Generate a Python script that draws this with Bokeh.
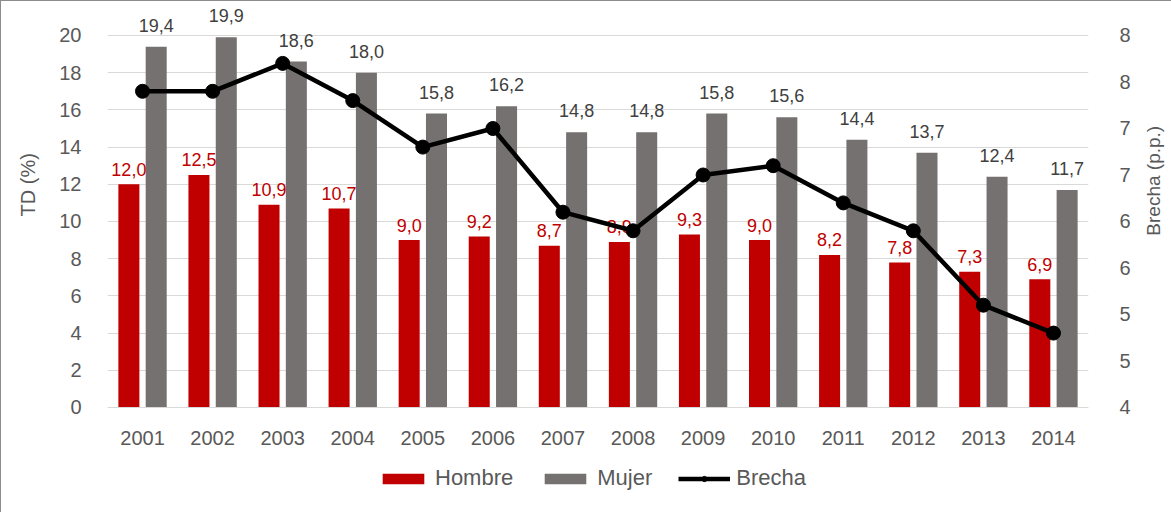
import math
from bokeh.plotting import figure
from bokeh.models import (ColumnDataSource, FactorRange, Range1d, LinearAxis, FixedTicker,
                          CustomJSTickFormatter, LabelSet, Legend, LegendItem)
from bokeh.transform import dodge
from bokeh.embed import file_html
from bokeh.resources import INLINE
from bokeh.core.properties import value

years = ["2001", "2002", "2003", "2004", "2005", "2006", "2007",
         "2008", "2009", "2010", "2011", "2012", "2013", "2014"]
hombre = [12.0, 12.5, 10.9, 10.7, 9.0, 9.2, 8.7, 8.9, 9.3, 9.0, 8.2, 7.8, 7.3, 6.9]
mujer = [19.4, 19.9, 18.6, 18.0, 15.8, 16.2, 14.8, 14.8, 15.8, 15.6, 14.4, 13.7, 12.4, 11.7]
brecha = [7.4, 7.4, 7.7, 7.3, 6.8, 7.0, 6.1, 5.9, 6.5, 6.6, 6.2, 5.9, 5.1, 4.8]
left_ticks = [0, 2, 4, 6, 8, 10, 12, 14, 16, 18, 20]
right_ticks = [4.0, 4.5, 5.0, 5.5, 6.0, 6.5, 7.0, 7.5, 8.0]

FONT = "Liberation Sans"
AXIS_GRAY = "#595959"
RED = "#c00000"
GRAY = "#767171"
NB = "\u00a0"

src = ColumnDataSource(dict(
    years=years, hombre=hombre, mujer=mujer, brecha=brecha,
    hombre_lbl=[f"{v:.1f}".replace(".", ",") for v in hombre],
    mujer_lbl=[f"{v:.1f}".replace(".", ",") for v in mujer],
))

# The frame reaches a little above 20 (room for the top data labels) and below 0
# (room for the category labels and the legend, drawn inside the frame).
p = figure(frame_width=981, frame_height=498, x_range=FactorRange(*years),
           y_range=Range1d(-5.0, 21.774),
           output_backend="svg", toolbar_location=None,
           min_border_left=106, min_border_right=81, min_border_top=1, min_border_bottom=12,
           styles={"border": "1px solid #8c8c8c"})
p.outline_line_color = None
p.extra_y_ranges = {"brecha": Range1d(3.0, 8.3548)}

p.xgrid.grid_line_color = None
p.ygrid.grid_line_color = "#d9d9d9"
p.ygrid.ticker = FixedTicker(ticks=left_ticks)

# axes
xa = p.xaxis[0]
xa.fixed_location = 0
xa.axis_line_color = "#d9d9d9"
xa.major_tick_line_color = None
xa.minor_tick_line_color = None
xa.major_label_text_font = FONT
xa.major_label_text_font_size = "20px"
xa.major_label_text_color = AXIS_GRAY
xa.major_label_standoff = 18

ya = p.yaxis[0]
ya.ticker = FixedTicker(ticks=left_ticks)
ya.axis_line_color = None
ya.major_tick_line_color = None
ya.minor_tick_line_color = None
ya.major_label_text_font = FONT
ya.major_label_text_font_size = "20px"
ya.major_label_text_color = AXIS_GRAY
ya.major_label_standoff = 20
ya.axis_label = NB * 24 + "TD (%)"
ya.axis_label_text_font = FONT
ya.axis_label_text_font_size = "20px"
ya.axis_label_text_font_style = "normal"
ya.axis_label_text_color = AXIS_GRAY
ya.axis_label_standoff = 17

ra = LinearAxis(y_range_name="brecha", ticker=FixedTicker(ticks=right_ticks),
                formatter=CustomJSTickFormatter(code="return Math.round(tick).toString();"))
ra.axis_line_color = None
ra.major_tick_line_color = None
ra.minor_tick_line_color = None
ra.major_label_text_font = FONT
ra.major_label_text_font_size = "20px"
ra.major_label_text_color = AXIS_GRAY
ra.major_label_standoff = 25
ra.axis_label = NB * 3 + "Brecha (p.p.)"
ra.axis_label_text_font = FONT
ra.axis_label_text_font_size = "19px"
ra.axis_label_text_font_style = "normal"
ra.axis_label_text_color = AXIS_GRAY
ra.axis_label_standoff = 20
try:
    ra.axis_label_orientation = math.pi / 2
except Exception:
    pass
p.add_layout(ra, "right")

# bars
r_h = p.vbar(x=dodge("years", -0.195, range=p.x_range), top="hombre", width=0.30,
             source=src, fill_color=RED, line_color=None)
p.text(x=dodge("years", -0.195, range=p.x_range), y="hombre", text="hombre_lbl", source=src,
       text_font=value(FONT), text_font_size="18px", text_color=RED,
       text_align="center", text_baseline="alphabetic", y_offset=-15)
r_m = p.vbar(x=dodge("years", 0.195, range=p.x_range), top="mujer", width=0.30,
             source=src, fill_color=GRAY, line_color=None)
p.add_layout(LabelSet(x=dodge("years", 0.195, range=p.x_range), y="mujer", text="mujer_lbl",
                      source=src, text_font=value(FONT), text_font_size="18px",
                      text_color="#404040", text_align="center", text_baseline="alphabetic",
                      y_offset=15))

# line
r_l = p.line(x="years", y="brecha", source=src, y_range_name="brecha",
             line_color="black", line_width=4.5)
r_s = p.scatter(x="years", y="brecha", source=src, y_range_name="brecha",
                marker="circle", size=14, fill_color="black", line_color="black")

legend = Legend(items=[LegendItem(label="Hombre", renderers=[r_h]),
                       LegendItem(label="Mujer", renderers=[r_m]),
                       LegendItem(label="Brecha", renderers=[r_l, r_s])],
                orientation="horizontal", location=(270, 9),
                glyph_width=52, glyph_height=13, label_height=22, label_standoff=6, spacing=26,
                padding=3, margin=0, border_line_color=None, background_fill_alpha=0,
                label_text_font=FONT, label_text_font_size="22px", label_text_color=AXIS_GRAY)
p.add_layout(legend, "center")

open("out.html", "w").write(file_html(p, INLINE))
